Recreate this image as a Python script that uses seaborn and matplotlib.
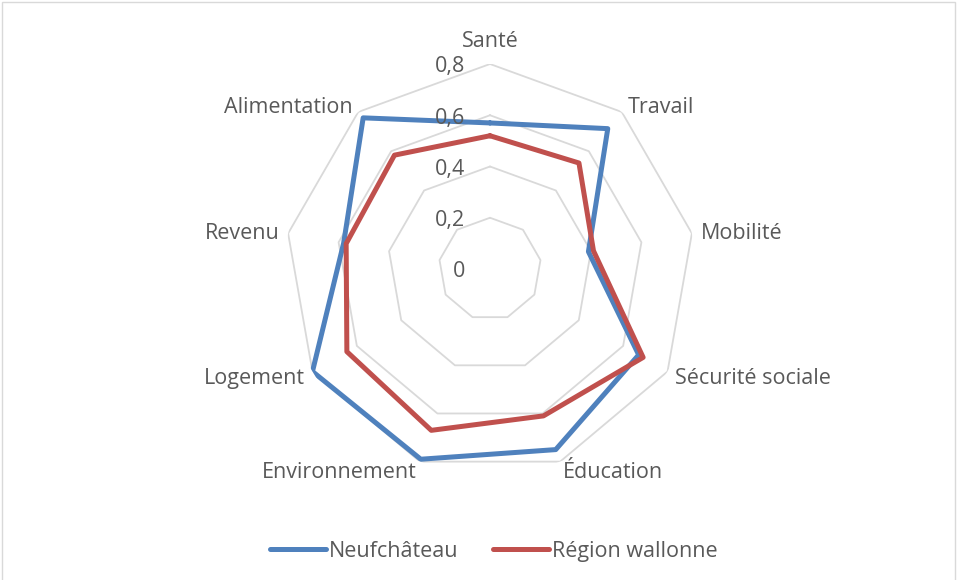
import numpy as np
import pandas as pd
import seaborn as sns
import matplotlib.pyplot as plt
from matplotlib.patches import Rectangle

categories = ["Santé", "Travail", "Mobilité", "Sécurité sociale", "Éducation",
              "Environnement", "Logement", "Revenu", "Alimentation"]
neufchateau = [0.57, 0.715, 0.39, 0.67, 0.75, 0.79, 0.80, 0.58, 0.77]
wallonie = [0.52, 0.54, 0.41, 0.69, 0.61, 0.67, 0.645, 0.57, 0.58]
series_names = ["Neufchâteau", "Région wallonne"]
ticks = [0, 0.2, 0.4, 0.6, 0.8]
tick_labels = ["0", "0,2", "0,4", "0,6", "0,8"]

colors = {"Neufchâteau": "#4F81BD", "Région wallonne": "#C0504D"}
text_col = "#595959"
grid_col = "#D9D9D9"
fs = 15.5

n = len(categories)
theta = np.linspace(0, 2 * np.pi, n, endpoint=False)
theta_closed = np.append(theta, 2 * np.pi)

rows = []
for name, vals in zip(series_names, [neufchateau, wallonie]):
    for t, v in zip(theta_closed, vals + vals[:1]):
        rows.append({"theta": t, "value": v, "serie": name})
df = pd.DataFrame(rows)

sns.set_style("white")
plt.rcParams["font.family"] = ["Open Sans", "DejaVu Sans"]

fig = plt.figure(figsize=(9.57, 5.8), dpi=100)
ax = fig.add_axes([285 / 957, 106 / 580, 410 / 957, 410 / 580], projection="polar")
ax.set_theta_zero_location("N")
ax.set_theta_direction(-1)

# polygon grid, no circles, no spokes
for v in ticks[1:]:
    ax.plot(theta_closed, [v] * (n + 1), color=grid_col, lw=1.3, zorder=1)

sns.lineplot(data=df, x="theta", y="value", hue="serie", palette=colors,
             sort=False, linewidth=3.6, ax=ax, zorder=3, estimator=None)
for line in ax.lines[-2:]:
    line.set_solid_joinstyle("round")
    line.set_solid_capstyle("round")

ax.set_ylim(0, 0.8)
ax.set_xticks([])
ax.set_yticks([])
ax.grid(False)
ax.spines["polar"].set_visible(False)
ax.set_xlabel("")
ax.set_ylabel("")
ax.patch.set_alpha(0)

# value labels left of the first axis
for v, lab in zip(ticks, tick_labels):
    ax.annotate(lab, xy=(0, v), xytext=(-18, -2), textcoords="offset points",
                ha="right", va="center", fontsize=fs, color=text_col,
                annotation_clip=False)

# category labels
for t, lab in zip(theta, categories):
    s = np.sin(t)
    if abs(s) < 1e-6:
        ax.annotate(lab, xy=(t, 0.895), xytext=(0, -1.5), textcoords="offset points",
                    ha="center", va="center", fontsize=fs, color=text_col,
                    annotation_clip=False)
    else:
        ax.annotate(lab, xy=(t, 0.835), xytext=(0, -1.5), textcoords="offset points",
                    ha="left" if s > 0 else "right", va="center",
                    fontsize=fs, color=text_col, annotation_clip=False)

sns.move_legend(ax, "center", bbox_to_anchor=(0.51, -0.188), ncol=2, frameon=False,
                title=None, fontsize=fs, handlelength=2.6, handletextpad=0.15,
                columnspacing=1.6)
leg = ax.get_legend()
for txt in leg.get_texts():
    txt.set_color(text_col)
for h in leg.get_lines():
    h.set_linewidth(3.6)
    h.set_solid_capstyle("round")

fig.patches.append(Rectangle((2 / 957, -0.01), 953 / 957, 1 - 2 / 580 + 0.01,
                             transform=fig.transFigure, fill=False,
                             edgecolor=grid_col, lw=1))

fig.savefig("out.png", dpi=100)
